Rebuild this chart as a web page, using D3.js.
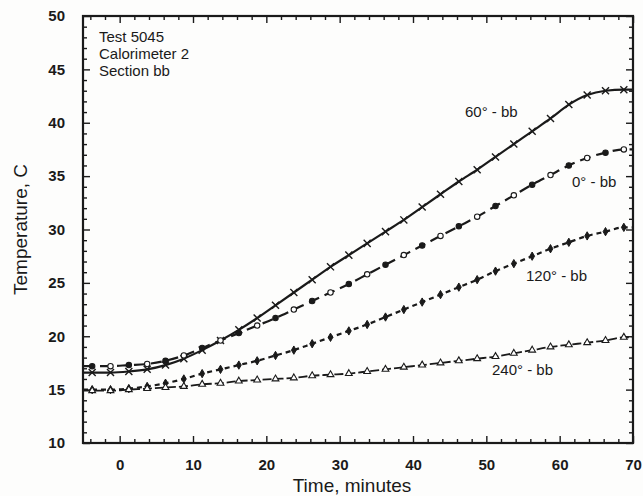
<!DOCTYPE html>
<html lang="en">
<head>
    <meta charset="UTF-8">
    <script src="https://d3js.org/d3.v7.min.js"></script>
    <title>Test 5045 Calorimeter 2</title>
    <style>
        body { margin: 0; background: #fdfdfc; }
        svg { display: block; font-family: "Liberation Sans", Arial, sans-serif; }
        .axis path { display: none; }
        .axis line { stroke: #1a1a1a; stroke-width: 1.4; }
        .axis text { font-size: 15px; font-weight: bold; fill: #1a1a1a; }
    </style>
</head>
<body>
    <svg id="chart" width="643" height="496"></svg>
    <script>
        // sample times (minutes)
        const time = [-3.75, -1.25, 1.25, 3.75, 6.25, 8.75, 11.25, 13.75, 16.25, 18.75,
            21.25, 23.75, 26.25, 28.75, 31.25, 33.75, 36.25, 38.75, 41.25, 43.75,
            46.25, 48.75, 51.25, 53.75, 56.25, 58.75, 61.25, 63.75, 66.25, 68.75];

        // temperatures, C
        const temp60 = [16.6, 16.6, 16.7, 16.9, 17.3, 17.9, 18.7, 19.6, 20.6, 21.7,
            22.9, 24.1, 25.3, 26.5, 27.6, 28.7, 29.8, 30.9, 32.1, 33.3,
            34.5, 35.6, 36.8, 38.0, 39.2, 40.4, 41.7, 42.6, 43.0, 43.1];
        const temp0 = [17.2, 17.2, 17.3, 17.4, 17.7, 18.2, 18.9, 19.6, 20.3, 21.0,
            21.7, 22.5, 23.3, 24.1, 24.9, 25.8, 26.7, 27.6, 28.5, 29.4,
            30.3, 31.2, 32.2, 33.2, 34.2, 35.1, 36.0, 36.7, 37.2, 37.5];
        const temp120 = [15.0, 15.0, 15.1, 15.3, 15.6, 16.0, 16.5, 16.9, 17.3, 17.7,
            18.2, 18.7, 19.3, 19.9, 20.5, 21.1, 21.8, 22.5, 23.2, 23.9,
            24.6, 25.3, 26.1, 26.8, 27.5, 28.2, 28.8, 29.4, 29.8, 30.2];
        const temp240 = [14.9, 14.9, 15.0, 15.1, 15.2, 15.3, 15.5, 15.6, 15.8, 15.9,
            16.0, 16.1, 16.3, 16.4, 16.5, 16.7, 16.9, 17.1, 17.3, 17.5,
            17.7, 17.9, 18.1, 18.4, 18.7, 19.0, 19.2, 19.4, 19.6, 19.9];

        const xTicks = [0, 10, 20, 30, 40, 50, 60, 70];
        const yTicks = [10, 15, 20, 25, 30, 35, 40, 45, 50];
        const infoLines = ['Test 5045', 'Calorimeter 2', 'Section bb'];
        const seriesNames = ['60° - bb', '0° - bb', '120° - bb', '240° - bb'];

        const svg = d3.select('#chart');
        const pl = 83, pr = 633, pt = 16, pb = 443;
        const ink = '#1a1a1a';

        const x = d3.scaleLinear().domain([-5, 70]).range([pl, pr]);
        const y = d3.scaleLinear().domain([10, 50]).range([pb, pt]);

        // axes: major ticks labelled, minor ticks inward, mirrored on top/right
        const xMinor = d3.range(-4, 70, 2).filter(v => v % 10 !== 0);
        const yMinor = d3.range(11, 50, 1).filter(v => v % 5 !== 0);

        svg.append('g').attr('class', 'axis').attr('transform', `translate(0,${pb})`)
            .call(d3.axisBottom(x).tickValues(xTicks).tickSize(-7).tickPadding(16));
        svg.append('g').attr('class', 'axis').attr('transform', `translate(0,${pb})`)
            .call(d3.axisBottom(x).tickValues(xMinor).tickSize(-4).tickFormat(''));
        svg.append('g').attr('class', 'axis').attr('transform', `translate(0,${pt})`)
            .call(d3.axisTop(x).tickValues(xTicks).tickSize(-7).tickFormat(''));
        svg.append('g').attr('class', 'axis').attr('transform', `translate(0,${pt})`)
            .call(d3.axisTop(x).tickValues(xMinor).tickSize(-4).tickFormat(''));

        svg.append('g').attr('class', 'axis').attr('transform', `translate(${pl},0)`)
            .call(d3.axisLeft(y).tickValues(yTicks).tickSize(-7).tickPadding(18));
        svg.append('g').attr('class', 'axis').attr('transform', `translate(${pl},0)`)
            .call(d3.axisLeft(y).tickValues(yMinor).tickSize(-4).tickFormat(''));
        svg.append('g').attr('class', 'axis').attr('transform', `translate(${pr},0)`)
            .call(d3.axisRight(y).tickValues(yTicks).tickSize(-7).tickFormat(''));
        svg.append('g').attr('class', 'axis').attr('transform', `translate(${pr},0)`)
            .call(d3.axisRight(y).tickValues(yMinor).tickSize(-4).tickFormat(''));

        // frame
        svg.append('rect')
            .attr('x', pl).attr('y', pt)
            .attr('width', pr - pl).attr('height', pb - pt)
            .attr('fill', 'none').attr('stroke', ink).attr('stroke-width', 2.2);

        // axis titles
        svg.append('text')
            .attr('x', (pl + pr) / 2 - 6).attr('y', 492)
            .attr('text-anchor', 'middle').style('font-size', '19px').attr('fill', ink)
            .text('Time, minutes');
        svg.append('text')
            .attr('transform', `translate(27,${(pt + pb) / 2}) rotate(-90)`)
            .attr('text-anchor', 'middle').style('font-size', '19px').attr('fill', ink)
            .text('Temperature, C');

        // info block
        svg.append('g').selectAll('text')
            .data(infoLines).enter()
            .append('text')
            .attr('x', 99).attr('y', (d, i) => 42 + i * 17)
            .style('font-size', '15px').attr('fill', ink)
            .text(d => d);

        // series (line runs to the frame on both sides, level with the end samples)
        const line = d3.line().curve(d3.curveMonotoneX)
            .x(d => x(d[0])).y(d => y(d[1]));
        const pairs = vals => time.map((t, i) => [t, vals[i]]);
        const [x0, x1] = x.domain();
        const runToFrame = vals => [[x0, vals[0]], ...pairs(vals), [x1, vals[vals.length - 1]]];

        const series = [
            { name: seriesNames[0], vals: temp60, dash: null, width: 2.2, lx: 465, ly: 117 },
            { name: seriesNames[1], vals: temp0, dash: '11,6', width: 2.2, lx: 572, ly: 187 },
            { name: seriesNames[2], vals: temp120, dash: '5,4', width: 2.2, lx: 526, ly: 281 },
            { name: seriesNames[3], vals: temp240, dash: '9,3', width: 1.8, lx: 492, ly: 375 },
        ];

        series.forEach(s => {
            svg.append('path')
                .attr('d', line(runToFrame(s.vals)))
                .attr('fill', 'none').attr('stroke', ink)
                .attr('stroke-width', s.width)
                .attr('stroke-dasharray', s.dash);
            svg.append('text')
                .attr('x', s.lx).attr('y', s.ly)
                .style('font-size', '15px').attr('fill', ink)
                .text(s.name);
        });

        // markers
        const mk = svg.append('g');
        mk.selectAll('.m60').data(pairs(temp60)).enter()
            .append('path').attr('class', 'm60')
            .attr('d', d3.symbol().type(d3.symbolX).size(34))
            .attr('transform', d => `translate(${x(d[0])},${y(d[1])})`)
            .attr('fill', 'none').attr('stroke', ink).attr('stroke-width', 1.4);

        mk.selectAll('.m0').data(pairs(temp0)).enter()
            .append('circle').attr('class', 'm0')
            .attr('cx', d => x(d[0])).attr('cy', d => y(d[1]))
            .attr('r', 2.7)
            .attr('fill', (d, i) => i % 2 ? '#fff' : ink)
            .attr('stroke', ink).attr('stroke-width', 1.1);

        mk.selectAll('.m120').data(pairs(temp120)).enter()
            .append('path').attr('class', 'm120')
            .attr('d', d3.symbol().type(d3.symbolDiamond).size(20))
            .attr('transform', d => `translate(${x(d[0])},${y(d[1])})`)
            .attr('fill', ink).attr('stroke', ink).attr('stroke-width', 1);

        mk.selectAll('.m240').data(pairs(temp240)).enter()
            .append('path').attr('class', 'm240')
            .attr('d', d3.symbol().type(d3.symbolTriangle).size(20))
            .attr('transform', d => `translate(${x(d[0])},${y(d[1])})`)
            .attr('fill', '#fff').attr('stroke', ink).attr('stroke-width', 1.1);
    </script>
</body>
</html>
